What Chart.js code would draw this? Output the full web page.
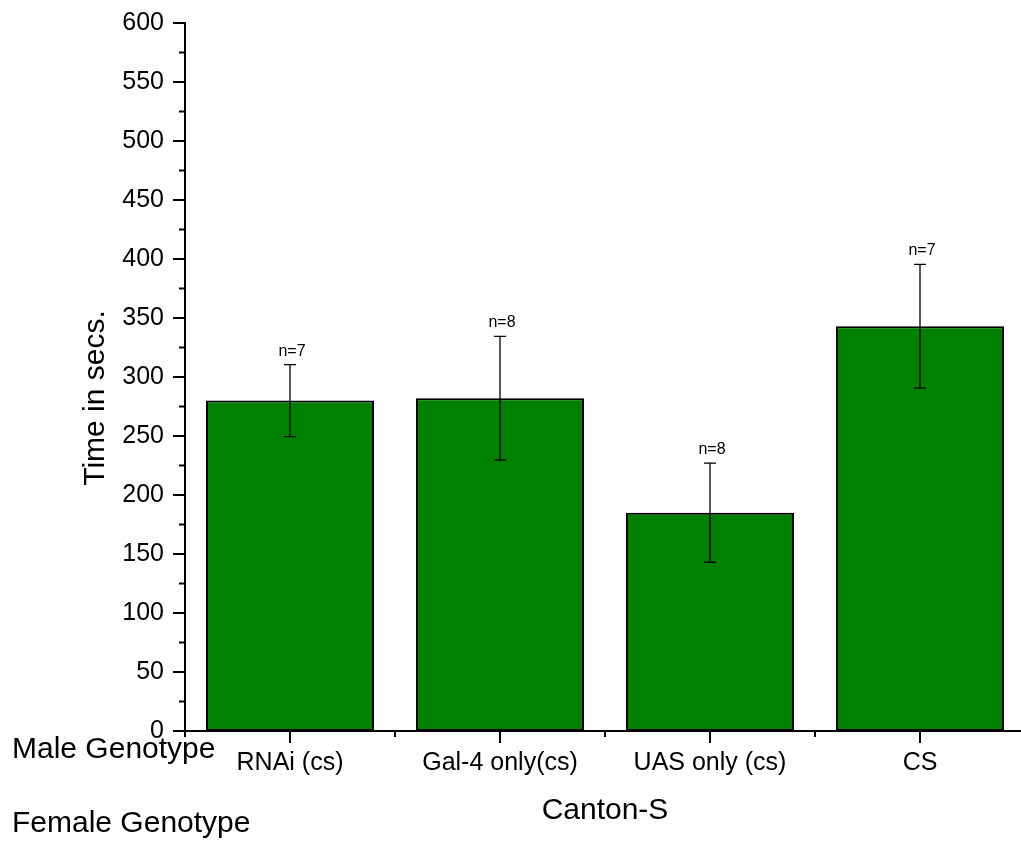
<!DOCTYPE html>
<html>
<head>
<meta charset="utf-8">
<script src="https://cdn.jsdelivr.net/npm/chart.js@4.4.1/dist/chart.umd.min.js"></script>
<style>
  html, body { margin: 0; padding: 0; background: #fff; overflow: hidden; }
  #wrap { width: 1021px; height: 844px; overflow: hidden; position: relative; }
  canvas { display: block; }
</style>
</head>
<body>
<div id="wrap"><canvas id="chart" width="1030" height="844"></canvas></div>
<script>
// Male genotypes crossed to Canton-S females
const maleGenotypes = ['RNAi (cs)', 'Gal-4 only(cs)', 'UAS only (cs)', 'CS'];
// Mean time (s) and standard error per group
const meanTime = [280, 282, 185, 343];
const errTime = [30.5, 52.5, 42, 52.5];
// Number of pairs per group
const sampleSizes = [7, 8, 8, 7];
// Y axis range and steps
const yMin = 0, yMax = 600, yMajorStep = 50, yMinorStep = 25;

const FONT = '"Liberation Sans", Arial, Helvetica, sans-serif';

// Axis lines and major/minor tick marks (drawn outside the plot area)
const axisFrame = {
  id: 'axisFrame',
  afterDatasetsDraw(chart) {
    const { ctx, chartArea: a, scales: { x, y } } = chart;
    ctx.save();
    ctx.strokeStyle = '#000';
    ctx.lineWidth = 2;
    ctx.lineCap = 'butt';
    ctx.beginPath();
    // y axis
    ctx.moveTo(a.left, y.getPixelForValue(yMax) - 1);
    ctx.lineTo(a.left, a.bottom);
    // x axis
    ctx.moveTo(a.left, a.bottom);
    ctx.lineTo(a.right, a.bottom);
    // y ticks
    for (let v = yMin; v <= yMax; v += yMinorStep) {
      const py = y.getPixelForValue(v);
      const len = (v % yMajorStep === 0) ? 12 : 6;
      ctx.moveTo(a.left - len, py);
      ctx.lineTo(a.left + 1, py);
    }
    // x ticks: long at category centres, short at boundaries
    const half = (x.getPixelForValue(1) - x.getPixelForValue(0)) / 2;
    maleGenotypes.forEach((_, i) => {
      const cx = x.getPixelForValue(i);
      ctx.moveTo(cx, a.bottom);
      ctx.lineTo(cx, a.bottom + 12);
      ctx.moveTo(cx - half, a.bottom);
      ctx.lineTo(cx - half, a.bottom + 6);
      ctx.moveTo(cx + half, a.bottom);
      ctx.lineTo(cx + half, a.bottom + 6);
    });
    ctx.stroke();

    // axis titles and row captions
    ctx.fillStyle = '#000';
    ctx.font = '30px ' + FONT;
    ctx.textAlign = 'left';
    ctx.textBaseline = 'alphabetic';
    ctx.fillText('Male Genotype', 12, 758);
    ctx.fillText('Female Genotype', 12, 832);
    ctx.textAlign = 'center';
    ctx.fillText('Canton-S', (a.left + a.right) / 2, 819);
    ctx.save();
    ctx.translate(104, 398);
    ctx.rotate(-Math.PI / 2);
    ctx.fillText('Time in secs.', 0, 0);
    ctx.restore();
    ctx.restore();
  }
};

// Error bars (mean ± error) with sample-size labels above them
const errorBars = {
  id: 'errorBars',
  afterDatasetsDraw(chart) {
    const { ctx, scales: { y } } = chart;
    const meta = chart.getDatasetMeta(0);
    ctx.save();
    ctx.strokeStyle = '#000';
    ctx.lineWidth = 1.3;
    ctx.fillStyle = '#000';
    ctx.font = '16px ' + FONT;
    ctx.textAlign = 'center';
    ctx.textBaseline = 'alphabetic';
    meta.data.forEach((bar, i) => {
      const hi = y.getPixelForValue(meanTime[i] + errTime[i]);
      const lo = y.getPixelForValue(meanTime[i] - errTime[i]);
      const bx = bar.x;
      ctx.beginPath();
      ctx.moveTo(bx, hi); ctx.lineTo(bx, lo);
      ctx.moveTo(bx - 6, hi); ctx.lineTo(bx + 6, hi);
      ctx.moveTo(bx - 6, lo); ctx.lineTo(bx + 6, lo);
      ctx.stroke();
      ctx.fillText('n=' + sampleSizes[i], bx + 2, hi - 9);
    });
    ctx.restore();
  }
};

new Chart(document.getElementById('chart'), {
  type: 'bar',
  data: {
    labels: maleGenotypes,
    datasets: [{
      data: meanTime,
      backgroundColor: '#008000',
      borderColor: '#000',
      borderWidth: 2,
      borderSkipped: false,
      barPercentage: 0.8,
      categoryPercentage: 1.0
    }]
  },
  options: {
    responsive: false,
    animation: false,
    devicePixelRatio: 1,
    layout: { padding: { top: 23, right: 5, bottom: 0, left: 0 } },
    plugins: { legend: { display: false }, tooltip: { enabled: false }, title: { display: false } },
    scales: {
      x: {
        offset: true,
        grid: { display: false, drawTicks: false },
        border: { display: false },
        ticks: { color: '#000', font: { family: FONT, size: 25 }, padding: 17, maxRotation: 0, autoSkip: false },
        afterFit(scale) { scale.height = 113; scale.paddingLeft = 0; scale.paddingRight = 0; }
      },
      y: {
        min: yMin, max: yMax,
        grid: { display: false, drawTicks: false },
        border: { display: false },
        ticks: { stepSize: yMajorStep, color: '#000', font: { family: FONT, size: 25 }, padding: 21 },
        afterFit(scale) { scale.width = 185; scale.paddingTop = 0; scale.paddingBottom = 0; }
      }
    }
  },
  plugins: [axisFrame, errorBars]
});
</script>
</body>
</html>
